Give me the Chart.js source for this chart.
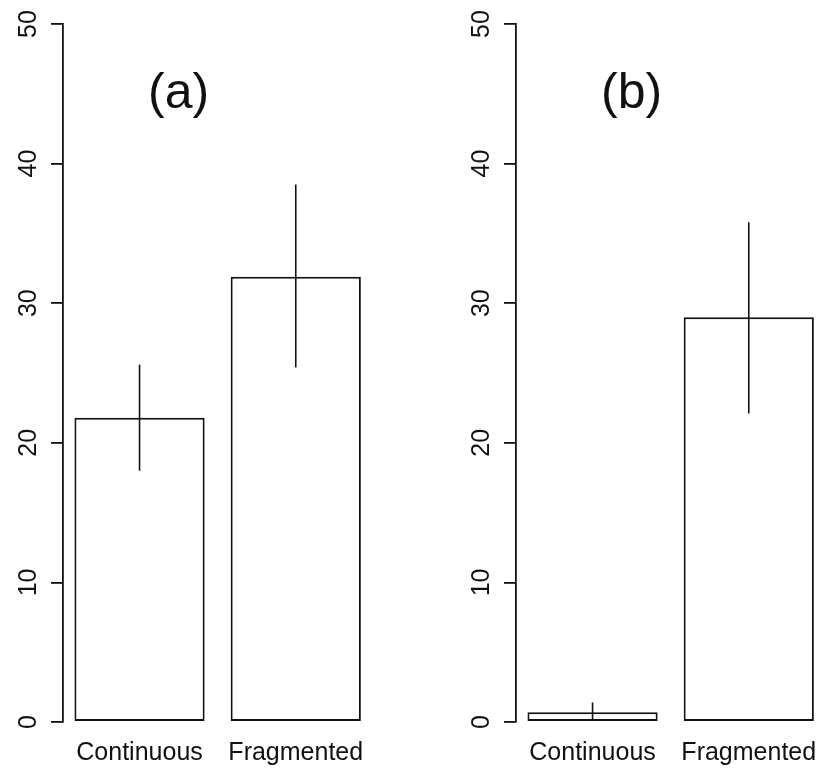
<!DOCTYPE html>
<html>
<head>
<meta charset="utf-8">
<script src="https://cdn.jsdelivr.net/npm/chart.js@4.4.0/dist/chart.umd.min.js"></script>
<style>
html, body { margin: 0; padding: 0; background: #fff; overflow: hidden; width: 824px; height: 770px; }
.panel { position: absolute; top: 0; width: 380px; height: 770px; }
</style>
</head>
<body>
<div class="panel" style="left:0"><canvas id="chartA" width="380" height="770"></canvas></div>
<div class="panel" style="left:453px"><canvas id="chartB" width="380" height="770"></canvas></div>
<script>
// data
const categories = ['Continuous', 'Fragmented'];
const barPositions = [0.7, 1.9];
const meansA = [21.8, 31.9];
const lowerA = [18.0, 25.4];
const upperA = [25.6, 38.5];
const meansB = [0.7, 29.0];
const lowerB = [0.2, 22.1];
const upperB = [1.4, 35.8];
const panelTitles = ['(a)', '(b)'];

const FONT = '"Liberation Sans", Arial, sans-serif';
const INK = '#111';

// error bars, rotated y labels and panel letter
const rPlot = {
	id: 'rPlot',
	afterDraw(chart, args, opts) {
		const ctx = chart.ctx;
		const x = chart.scales.x;
		const y = chart.scales.y;
		ctx.save();
		ctx.strokeStyle = INK;
		ctx.lineWidth = 1.6;
		opts.lower.forEach((lo, i) => {
			const px = x.getPixelForValue(barPositions[i]);
			ctx.beginPath();
			ctx.moveTo(px, y.getPixelForValue(lo));
			ctx.lineTo(px, y.getPixelForValue(opts.upper[i]));
			ctx.stroke();
		});

		ctx.fillStyle = INK;
		ctx.font = '25px ' + FONT;
		ctx.textAlign = 'center';
		ctx.textBaseline = 'middle';
		y.ticks.forEach(t => {
			ctx.save();
			ctx.translate(chart.chartArea.left - 34, y.getPixelForValue(t.value));
			ctx.rotate(-Math.PI / 2);
			ctx.fillText(String(t.value), 0, 0);
			ctx.restore();
		});

		// panel letter at (1, 45) in data units
		ctx.font = '50px ' + FONT;
		ctx.fillText(opts.title, x.getPixelForValue(1), y.getPixelForValue(45));
		ctx.restore();
	}
};

function makeChart(id, means, lower, upper, title) {
	return new Chart(document.querySelector(id), {
		type: 'bar',
		data: {
			datasets: [{
				data: barPositions.map((p, i) => ({ x: p, y: means[i] })),
				backgroundColor: '#fff',
				borderColor: INK,
				borderWidth: 2,
				borderSkipped: false,
				categoryPercentage: 1,
				barPercentage: 1 / 1.2
			}]
		},
		options: {
			responsive: false,
			animation: false,
			layout: { padding: { top: 24, right: 3.4, left: 0, bottom: 0 } },
			plugins: {
				legend: { display: false },
				tooltip: { enabled: false },
				rPlot: { lower: lower, upper: upper, title: title }
			},
			scales: {
				x: {
					type: 'linear',
					min: 0.112,
					max: 2.488,
					offset: false,
					grid: { display: false, drawTicks: false },
					border: { display: false },
					afterBuildTicks: s => { s.ticks = barPositions.map(v => ({ value: v })); },
					afterFit: s => { s.height = 48; },
					ticks: {
						autoSkip: false,
						maxRotation: 0,
						padding: 16,
						color: INK,
						font: { family: FONT, size: 25 },
						callback: (v, i) => categories[i]
					}
				},
				y: {
					min: 0,
					max: 50,
					afterFit: s => { s.width = 63; },
					grid: {
						display: true,
						drawOnChartArea: false,
						drawTicks: true,
						tickLength: 12,
						color: INK,
						lineWidth: 1.8
					},
					border: { display: true, color: INK, width: 1.8 },
					ticks: { display: false, stepSize: 10 }
				}
			}
		},
		plugins: [rPlot]
	});
}

makeChart('#chartA', meansA, lowerA, upperA, panelTitles[0]);
makeChart('#chartB', meansB, lowerB, upperB, panelTitles[1]);
</script>
</body>
</html>
